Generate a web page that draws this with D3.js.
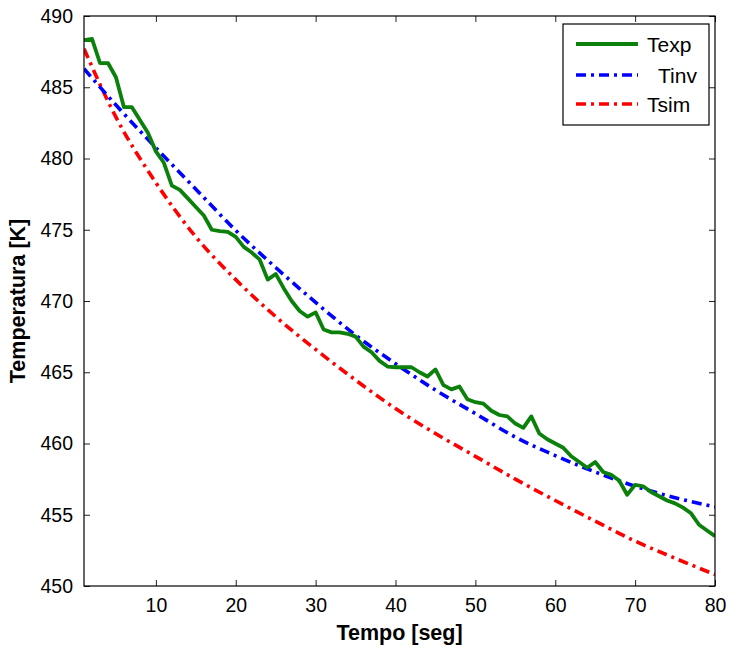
<!DOCTYPE html>
<html>
<head>
<meta charset="utf-8">
<script src="https://cdn.jsdelivr.net/npm/d3@7"></script>
<style>
  html, body { margin: 0; padding: 0; background: #fff; }
  svg { display: block; font-family: "Liberation Sans", Arial, Helvetica, sans-serif; }
</style>
</head>
<body>
<svg id="chart" width="734" height="647"></svg>
<script>
// ---- data ----
const texpTimes = d3.range(1, 81);
const texpValues = [
  488.3, 488.4, 486.7, 486.7, 485.7, 483.6, 483.6, 482.7, 481.8, 480.5,
  479.7, 478.1, 477.8, 477.2, 476.6, 476.0, 475.0, 474.9, 474.85, 474.5,
  473.8, 473.4, 472.9, 471.5, 471.9, 470.9, 470.0, 469.3, 468.9, 469.2,
  468.0, 467.8, 467.8, 467.7, 467.5, 466.8, 466.4, 465.8, 465.4, 465.35,
  465.35, 465.35, 465.0, 464.7, 465.2, 464.1, 463.8, 464.0, 463.1, 462.9,
  462.8, 462.3, 462.0, 461.9, 461.4, 461.1, 461.9, 460.7, 460.3, 460.0,
  459.7, 459.1, 458.7, 458.3, 458.7, 458.0, 457.8, 457.4, 456.4, 457.1,
  457.0, 456.6, 456.3, 456.0, 455.8, 455.5, 455.1, 454.3, 453.9, 453.5
];
const modelTimes = [1, 5, 10, 15, 20, 25, 30, 35, 40, 45, 50, 55, 60, 65, 70, 75, 80];
const tinvValues = [486.3, 483.75, 480.75, 477.85, 474.95, 472.35, 469.9, 467.6, 465.6,
                    463.75, 462.1, 460.45, 459.15, 458.0, 457.0, 456.2, 455.55];
const tsimValues = [487.7, 482.9, 478.3, 474.5, 471.5, 468.9, 466.6, 464.45, 462.45,
                    460.7, 459.1, 457.5, 456.0, 454.55, 453.15, 451.95, 450.8];
const xTicks = [10, 20, 30, 40, 50, 60, 70, 80];
const yTicks = [450, 455, 460, 465, 470, 475, 480, 485, 490];
const legendLabels = ["Texp", "Tinv", "Tsim"];

// ---- layout ----
const svg = d3.select("#chart");
const L = 84, R = 715, T = 16, B = 586;
const x = d3.scaleLinear().domain([1, 80]).range([L, R]);
const y = d3.scaleLinear().domain([450, 490]).range([B, T]);

const colors = { Texp: "#0b800b", Tinv: "#0000ff", Tsim: "#ff0000" };
const dash = "10,5,3,5";

// clip
svg.append("clipPath").attr("id", "clip")
  .append("rect").attr("x", L).attr("y", T).attr("width", R - L).attr("height", B - T);

const plot = svg.append("g").attr("clip-path", "url(#clip)");

const lineGen = d3.line().x(d => x(d[0])).y(d => y(d[1]));
const smoothGen = d3.line().x(d => x(d[0])).y(d => y(d[1])).curve(d3.curveMonotoneX);

plot.append("path")
  .datum(modelTimes.map((t, i) => [t, tsimValues[i]]))
  .attr("d", smoothGen).attr("fill", "none")
  .attr("stroke", colors.Tsim).attr("stroke-width", 3.6).attr("stroke-dasharray", dash);

plot.append("path")
  .datum(modelTimes.map((t, i) => [t, tinvValues[i]]))
  .attr("d", smoothGen).attr("fill", "none")
  .attr("stroke", colors.Tinv).attr("stroke-width", 3.6).attr("stroke-dasharray", dash);

plot.append("path")
  .datum(texpTimes.map((t, i) => [t, texpValues[i]]))
  .attr("d", lineGen).attr("fill", "none")
  .attr("stroke", colors.Texp).attr("stroke-width", 3.8).attr("stroke-linejoin", "round");

// axes (ticks inside, box)
const tickLen = 6;
const axG = svg.append("g");
const xb = d3.axisBottom(x).tickValues(xTicks).tickSize(-tickLen).tickPadding(12).tickFormat(d3.format("d"));
const xt = d3.axisTop(x).tickValues(xTicks).tickSize(-tickLen).tickFormat("");
const yl = d3.axisLeft(y).tickValues(yTicks).tickSize(-tickLen).tickPadding(11).tickFormat(d3.format("d"));
const yr = d3.axisRight(y).tickValues(yTicks).tickSize(-tickLen).tickFormat("");

const gxb = axG.append("g").attr("transform", `translate(0,${B})`).call(xb);
const gxt = axG.append("g").attr("transform", `translate(0,${T})`).call(xt);
const gyl = axG.append("g").attr("transform", `translate(${L},0)`).call(yl);
const gyr = axG.append("g").attr("transform", `translate(${R},0)`).call(yr);
[gxb, gxt, gyl, gyr].forEach(g => {
  g.select(".domain").remove();
  g.selectAll(".tick line").attr("stroke", "#222").attr("stroke-width", 1);
  g.selectAll("text").attr("fill", "#000").style("font-size", "19.5px")
    .style("font-family", "'Liberation Sans', Arial, sans-serif");
});
gxb.selectAll("text").attr("dy", "0.71em");

svg.append("rect").attr("x", L).attr("y", T).attr("width", R - L).attr("height", B - T)
  .attr("fill", "none").attr("stroke", "#000").attr("stroke-width", 1.2);

// axis titles
svg.append("text").attr("x", (L + R) / 2).attr("y", 640)
  .attr("text-anchor", "middle").style("font-size", "21.5px").style("font-weight", "bold")
  .text("Tempo [seg]");
svg.append("text").attr("transform", `translate(25,${(T + B) / 2}) rotate(-90)`)
  .attr("text-anchor", "middle").style("font-size", "21.5px").style("font-weight", "bold")
  .text("Temperatura [K]");

// legend
const lg = svg.append("g");
lg.append("rect").attr("x", 563).attr("y", 24).attr("width", 146).attr("height", 101)
  .attr("fill", "#fff").attr("stroke", "#000").attr("stroke-width", 1.2);
const rows = [44, 75, 104];
const textX = [647, 658, 647];
legendLabels.forEach((lab, i) => {
  lg.append("line").attr("x1", 576).attr("x2", 638).attr("y1", rows[i]).attr("y2", rows[i])
    .attr("stroke", colors[lab]).attr("stroke-width", i === 0 ? 3.8 : 3.6)
    .attr("stroke-dasharray", i === 0 ? null : dash);
  lg.append("text").attr("x", textX[i]).attr("y", rows[i]).attr("dy", "0.36em")
    .style("font-size", "21px").text(lab);
});
</script>
</body>
</html>
